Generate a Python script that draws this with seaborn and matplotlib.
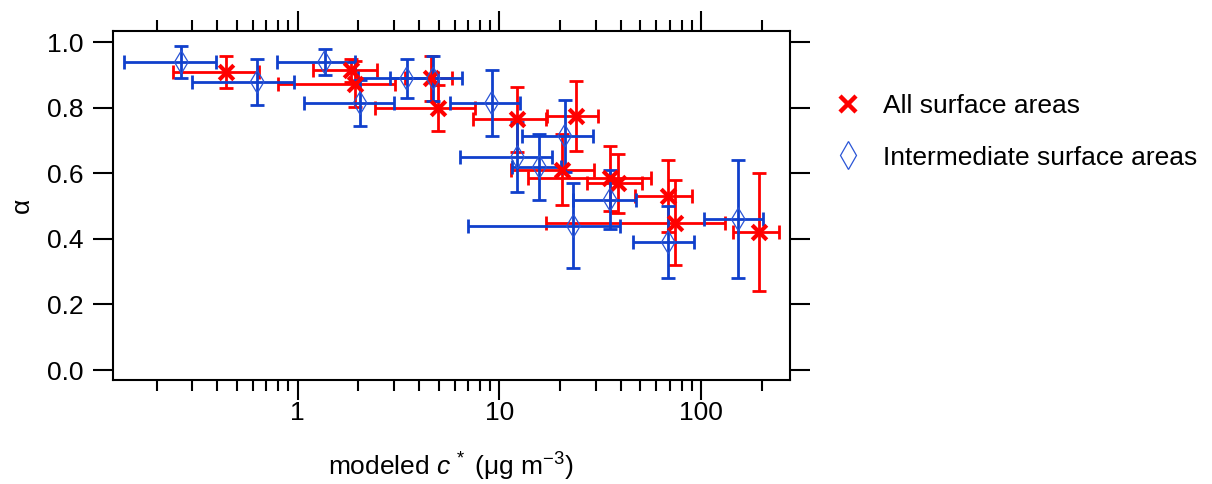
import numpy as np
import pandas as pd
import matplotlib
matplotlib.use("Agg")
import matplotlib.pyplot as plt
from matplotlib.lines import Line2D
from matplotlib.ticker import LogLocator, NullFormatter, FixedLocator, FuncFormatter
import seaborn as sns

# --- data: "All surface areas" (red) ---
red_x = [0.44, 1.83, 1.92, 4.6, 4.98, 12.2, 20.4, 24.0, 35.3, 38.9, 68.8, 74.0, 194.0]
red_xerr = [0.20, 0.645, 1.12, 1.2, 2.57, 4.8, 8.95, 6.7, 21.4, 11.8, 21.5, 57.0, 50.0]
red_y = [0.91, 0.915, 0.873, 0.89, 0.80, 0.765, 0.612, 0.775, 0.585, 0.57, 0.53, 0.45, 0.42]
red_yerr = [0.05, 0.035, 0.07, 0.07, 0.07, 0.10, 0.109, 0.107, 0.10, 0.09, 0.11, 0.13, 0.18]

# --- data: "Intermediate surface areas" (blue) ---
blue_x = [0.265, 0.63, 1.36, 2.04, 3.47, 4.70, 9.16, 12.3, 15.8, 21.1, 23.3, 35.4, 68.8, 153.0]
blue_xerr = [0.127, 0.33, 0.57, 0.97, 1.48, 1.83, 3.48, 5.9, 4.3, 8.1, 16.3, 12.3, 23.0, 49.0]
blue_y = [0.94, 0.88, 0.94, 0.815, 0.89, 0.89, 0.815, 0.65, 0.62, 0.715, 0.44, 0.52, 0.39, 0.46]
blue_yerr = [0.05, 0.07, 0.04, 0.07, 0.06, 0.07, 0.10, 0.107, 0.10, 0.11, 0.13, 0.09, 0.11, 0.18]

series_labels = ["All surface areas", "Intermediate surface areas"]
y_ticks = [0.0, 0.2, 0.4, 0.6, 0.8, 1.0]
x_ticks = [1, 10, 100]

RED = "#ff0000"
BLUE = "#1040cc"
BLUE_MARK = "#2a55d6"

sns.set_theme(style="ticks")
plt.rcParams["font.family"] = ["Liberation Sans", "DejaVu Sans"]
plt.rcParams["mathtext.fontset"] = "custom"
plt.rcParams["mathtext.rm"] = "Liberation Sans"
plt.rcParams["mathtext.it"] = "Liberation Sans:italic"
plt.rcParams["mathtext.default"] = "regular"
plt.rcParams["text.color"] = "black"
plt.rcParams["axes.labelcolor"] = "black"

FS = 19

red_df = pd.DataFrame({"c": red_x, "a": red_y})
blue_df = pd.DataFrame({"c": blue_x, "a": blue_y})

fig = plt.figure(figsize=(12.12, 4.84), dpi=100)
ax = fig.add_axes([0.0932, 0.2159, 0.5586, 0.7201])

ebkw = dict(fmt="none", elinewidth=2.0, capsize=5.2, capthick=2.0)
ax.errorbar(red_x, red_y, xerr=red_xerr, yerr=red_yerr, ecolor=RED, zorder=2, **ebkw)
ax.errorbar(blue_x, blue_y, xerr=blue_xerr, yerr=blue_yerr, ecolor=BLUE, zorder=3, **ebkw)

sns.scatterplot(data=red_df, x="c", y="a", ax=ax, marker="x", s=110,
                color=RED, linewidth=3.0, zorder=4, legend=False)
sns.scatterplot(data=blue_df, x="c", y="a", ax=ax, marker="d", s=135,
                facecolor="none", edgecolor=BLUE_MARK, linewidth=0.9, zorder=5, legend=False)

ax.set_xscale("log")
ax.set_xlim(0.1214, 276)
ax.set_ylim(-0.029, 1.035)

ax.xaxis.set_major_locator(FixedLocator(x_ticks))
ax.xaxis.set_major_formatter(FuncFormatter(lambda v, p: f"{v:g}"))
ax.xaxis.set_minor_locator(LogLocator(base=10, subs=np.arange(2, 10), numticks=20))
ax.xaxis.set_minor_formatter(NullFormatter())
ax.yaxis.set_major_locator(FixedLocator(y_ticks))
ax.yaxis.set_major_formatter(FuncFormatter(lambda v, p: f"{v:.1f}"))

for s in ax.spines.values():
    s.set_linewidth(1.5)
    s.set_color("black")

ax.tick_params(axis="both", which="major", direction="out", length=14.4, width=1.5,
               colors="black", labelsize=FS, top=True, right=True,
               labeltop=False, labelright=False)
ax.tick_params(axis="x", which="minor", direction="out", length=7.7, width=1.5,
               colors="black", top=True, bottom=True)
ax.tick_params(axis="x", which="major", pad=1)
ax.tick_params(axis="y", which="major", pad=7)

ax.set_xlabel(r"modeled $\mathit{c}^{\,*}$ (μg m$^{-3}$)", fontsize=FS, labelpad=19)
ax.set_ylabel("α", fontsize=FS, labelpad=9)

handles = [
    Line2D([], [], ls="none", marker="x", color=RED, markersize=12, markeredgewidth=3.2),
    Line2D([], [], ls="none", marker="d", markerfacecolor="none",
           markeredgecolor=BLUE_MARK, markersize=14, markeredgewidth=0.9),
]
fig.legend(handles, series_labels, loc="upper left", bbox_to_anchor=(0.6888, 0.806),
           frameon=False, fontsize=FS, handlelength=1.0, handletextpad=0.82,
           labelspacing=1.05, borderpad=0, borderaxespad=0)

fig.savefig("out.png", dpi=100)
